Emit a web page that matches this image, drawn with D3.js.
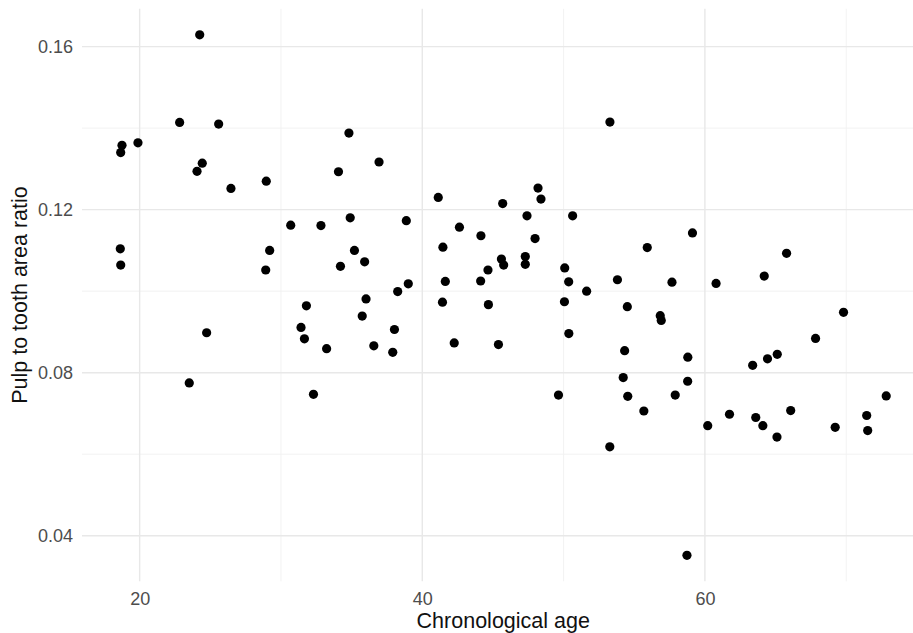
<!DOCTYPE html>
<html>
<head>
<meta charset="utf-8">
<script src="https://cdn.jsdelivr.net/npm/d3@7"></script>
<style>
  body { margin: 0; background: #fff; }
  svg { display: block; font-family: "Liberation Sans", Arial, sans-serif; }
</style>
</head>
<body>
<svg id="chart"></svg>
<script>
// Chronological age (x) and pulp to tooth area ratio (y)
const ages = [
  24.25, 22.83, 25.59, 18.75, 18.66, 19.88, 24.43, 24.06, 26.46, 18.63,
  18.66, 24.74, 23.51, 34.81, 36.94, 34.07, 28.96, 34.90, 30.69, 32.83,
  29.20, 35.20, 28.92, 35.92, 34.21, 36.02, 31.80, 35.75, 31.42, 31.66,
  33.23, 36.57, 32.30, 41.13, 45.69, 38.87, 42.63, 44.15, 41.46, 45.60,
  45.76, 44.65, 39.01, 38.26, 41.63, 44.13, 41.43, 44.68, 38.03, 37.91,
  42.26, 45.39, 48.19, 48.40, 47.41, 50.64, 53.28, 47.98, 47.29, 47.29,
  50.08, 50.36, 53.81, 51.63, 50.06, 55.92, 54.51, 56.84, 56.91, 50.37,
  54.32, 54.22, 49.64, 54.54, 55.68, 53.27, 59.12, 57.67, 60.79, 64.20,
  65.78, 69.81, 67.83, 58.79, 63.38, 64.43, 65.12, 58.78, 57.90, 61.74,
  60.20, 63.60, 64.10, 66.07, 65.10, 69.22, 71.45, 71.52, 72.83, 58.73
]
const ratios = [
  0.1629, 0.1414, 0.1410, 0.1358, 0.1340, 0.1364, 0.1314, 0.1294, 0.1252, 0.1104,
  0.1064, 0.0898, 0.0775, 0.1388, 0.1317, 0.1293, 0.1270, 0.1180, 0.1162, 0.1161,
  0.1100, 0.1100, 0.1052, 0.1072, 0.1061, 0.0981, 0.0964, 0.0939, 0.0911, 0.0883,
  0.0859, 0.0866, 0.0747, 0.1230, 0.1215, 0.1173, 0.1157, 0.1136, 0.1108, 0.1079,
  0.1064, 0.1052, 0.1018, 0.0999, 0.1024, 0.1025, 0.0973, 0.0967, 0.0906, 0.0850,
  0.0873, 0.0869, 0.1253, 0.1226, 0.1185, 0.1185, 0.1415, 0.1129, 0.1085, 0.1066,
  0.1057, 0.1023, 0.1028, 0.1000, 0.0974, 0.1107, 0.0962, 0.0940, 0.0928, 0.0896,
  0.0854, 0.0788, 0.0745, 0.0742, 0.0706, 0.0618, 0.1143, 0.1022, 0.1019, 0.1037,
  0.1093, 0.0948, 0.0884, 0.0838, 0.0818, 0.0834, 0.0845, 0.0779, 0.0745, 0.0698,
  0.0670, 0.0690, 0.0670, 0.0707, 0.0642, 0.0666, 0.0695, 0.0658, 0.0743, 0.0352
]
const xMajor = [20, 40, 60]
const xMinor = [30, 50, 70]
const yMajor = [0.04, 0.08, 0.12, 0.16]
const yMinor = [0.06, 0.10, 0.14]

const width = 913
const height = 633
// panel runs past the right edge of the picture (it was cropped)
const panel = { left: 82, right: 924.5, top: 8.8, bottom: 581.3 }

const svg = d3.select("#chart").attr("width", width).attr("height", height)

// ggplot-style 5% expansion of the data range
const expand = ([a, b]) => [a - (b - a) * 0.05, b + (b - a) * 0.05]

const x = d3.scaleLinear().domain(expand(d3.extent(ages))).range([panel.left, panel.right])
const y = d3.scaleLinear().domain(expand(d3.extent(ratios))).range([panel.bottom, panel.top])

const points = ages.map((a, i) => ({ age: a, ratio: ratios[i] }))

// grid lines
const grid = svg.append("g").attr("class", "grid")

const drawGrid = (vals, horizontal, stroke, w) => {
  vals.forEach(v => {
    if (horizontal) {
      grid.append("line")
        .attr("x1", panel.left).attr("x2", panel.right)
        .attr("y1", y(v)).attr("y2", y(v))
        .attr("stroke", stroke).attr("stroke-width", w)
    } else {
      grid.append("line")
        .attr("x1", x(v)).attr("x2", x(v))
        .attr("y1", panel.top).attr("y2", panel.bottom)
        .attr("stroke", stroke).attr("stroke-width", w)
    }
  })
}
drawGrid(yMinor, true, "#f0f0f0", 0.9)
drawGrid(xMinor, false, "#f0f0f0", 0.9)
drawGrid(yMajor, true, "#e8e8e8", 1.4)
drawGrid(xMajor, false, "#e8e8e8", 1.4)

// axes (labels only, theme_minimal has no ticks or axis lines)
const xAxis = svg.append("g")
  .attr("transform", `translate(0,${panel.bottom})`)
  .call(d3.axisBottom(x).tickValues(xMajor).tickSize(0).tickPadding(10.5).tickFormat(d3.format("d")))
const yAxis = svg.append("g")
  .attr("transform", `translate(${panel.left},0)`)
  .call(d3.axisLeft(y).tickValues(yMajor).tickSize(0).tickPadding(9).tickFormat(d3.format(".2f")))

;[xAxis, yAxis].forEach(ax => {
  ax.select(".domain").remove()
  ax.selectAll("text")
    .attr("fill", "#4d4d4d")
    .style("font-size", "18px")
    .style("font-family", "'Liberation Sans', Arial, sans-serif")
})

// points
svg.append("g")
  .selectAll("circle")
  .data(points)
  .join("circle")
  .attr("cx", d => x(d.age))
  .attr("cy", d => y(d.ratio))
  .attr("r", 4.6)
  .attr("fill", "#000")

// axis titles
svg.append("text")
  .attr("x", (panel.left + panel.right) / 2)
  .attr("y", 628)
  .attr("text-anchor", "middle")
  .style("font-size", "21.5px")
  .attr("fill", "#111")
  .text("Chronological age")

svg.append("text")
  .attr("transform", `translate(27,${(panel.top + panel.bottom) / 2}) rotate(-90)`)
  .attr("text-anchor", "middle")
  .style("font-size", "21.5px")
  .attr("fill", "#111")
  .text("Pulp to tooth area ratio")
</script>
</body>
</html>
